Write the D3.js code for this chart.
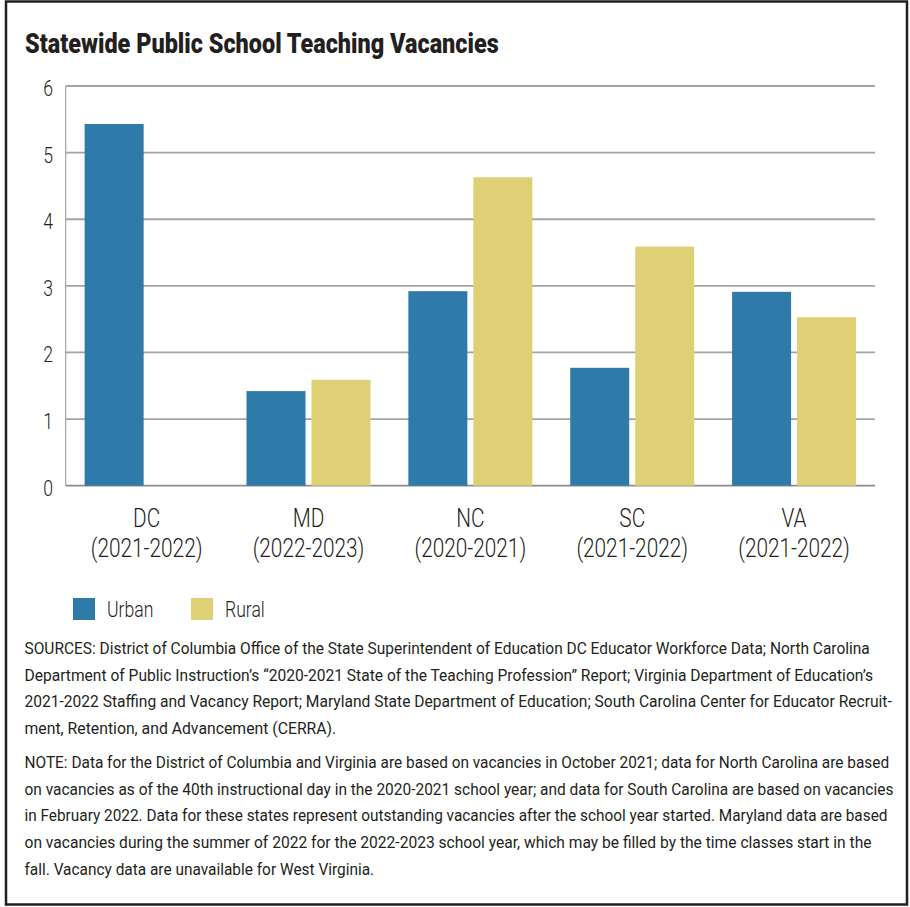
<!DOCTYPE html>
<html>
<head>
<meta charset="utf-8">
<script src="https://cdn.jsdelivr.net/npm/d3@7"></script>
<style>
  body { margin: 0; background: #fff; }
  text { font-family: Roboto, "Liberation Sans", sans-serif; fill: #231f20; }
</style>
</head>
<body>
<div id="graph"></div>
<script>
// chart data
let states = ['DC', 'MD', 'NC', 'SC', 'VA'];
let years = ['(2021-2022)', '(2022-2023)', '(2020-2021)', '(2021-2022)', '(2021-2022)'];
let urban = [5.43, 1.42, 2.92, 1.77, 2.91];
let rural = [null, 1.59, 4.63, 3.59, 2.53];
let seriesNames = ['Urban', 'Rural'];
let yTicks = [0, 1, 2, 3, 4, 5, 6];

let title = 'Statewide Public School Teaching Vacancies';
let sourceLines = [
	'SOURCES:  District of Columbia Office of the State Superintendent of Education DC Educator Workforce Data; North Carolina',
	'Department of Public Instruction\u2019s \u201c2020-2021 State of the Teaching Profession\u201d Report; Virginia Department of Education\u2019s',
	'2021-2022 Staffing and Vacancy Report; Maryland State Department of Education; South Carolina Center for Educator Recruit-',
	'ment, Retention, and Advancement (CERRA).'
];
let noteLines = [
	'NOTE: Data for the District of Columbia and Virginia are based on vacancies in October 2021; data for North Carolina are based',
	'on vacancies as of the 40th instructional day in the 2020-2021 school year; and data for South Carolina are based on vacancies',
	'in February 2022. Data for these states represent outstanding vacancies after the school year started. Maryland data are based',
	'on vacancies during the summer of 2022 for the 2022-2023 school year, which may be filled by the time classes start in the',
	'fall. Vacancy data are unavailable for West Virginia.'
];
// line widths
let sourceWidths = [846, 849, 868, 312];
let noteWidths = [865, 869, 864, 848, 350];

let colors = d3.scaleOrdinal().domain(seriesNames).range(['#2e7ba9', '#e0d075']);

let width = 910, height = 907;
let plot = { left: 65.7, right: 875, top: 86, bottom: 485.7 };
let narrow = 0.8; // horizontal squeeze standing in for the condensed face

let svg = d3.select('div#graph').append('svg')
	.attr('width', width)
	.attr('height', height);

// squeeze a text to a wanted width (or by a factor) and put it at x,y
function fit(node, x, y, w, k){
	let len = node.getComputedTextLength();
	let s = w ? w / len : k;
	d3.select(node).attr('transform', 'translate(' + x + ',' + y + ') scale(' + s + ',1)');
}

// frame
svg.append('rect')
	.attr('x', 6).attr('y', 1.5)
	.attr('width', 901).attr('height', 903)
	.attr('fill', 'none')
	.attr('stroke', '#231f20')
	.attr('stroke-width', 2.5);

let t = svg.append('text')
	.attr('font-size', 27)
	.attr('font-weight', 900)
	.text(title);
fit(t.node(), 25, 53, 474);

let x0 = d3.scaleBand()
	.domain(states)
	.range([plot.left, plot.right])
	.paddingInner(0.234)
	.paddingOuter(0.117);
let x1 = d3.scaleBand()
	.domain(seriesNames)
	.range([0, x0.bandwidth()])
	.paddingInner(0.092);
let y = d3.scaleLinear()
	.domain([0, 6])
	.range([plot.bottom, plot.top]);

// gridlines
let grid = svg.append('g');
grid.selectAll('line')
	.data(yTicks)
	.enter()
	.append('line')
	.attr('x1', plot.left)
	.attr('x2', plot.right)
	.attr('y1', function(d){ return y(d); })
	.attr('y2', function(d){ return y(d); })
	.attr('stroke', function(d){ return d === 0 ? '#8c8c8c' : '#a4a4a4'; })
	.attr('stroke-width', 1.8);
grid.append('line')
	.attr('x1', plot.left).attr('x2', plot.left)
	.attr('y1', y(6)).attr('y2', y(0))
	.attr('stroke', '#a4a4a4')
	.attr('stroke-width', 1.2);

svg.append('g').selectAll('text')
	.data(yTicks)
	.enter()
	.append('text')
	.attr('text-anchor', 'end')
	.attr('font-size', 22)
	.attr('font-weight', 300)
	.attr('fill', '#333')
	.text(function(d){ return d; })
	.each(function(d){ fit(this, 53, y(d) + 10, null, narrow); });

// bars
let rows = states.map(function(s, i){
	return { state: s, values: [ { key: 'Urban', v: urban[i] }, { key: 'Rural', v: rural[i] } ] };
});
let groups = svg.append('g').selectAll('g')
	.data(rows)
	.enter()
	.append('g')
	.attr('transform', function(d){ return 'translate(' + x0(d.state) + ',0)'; });
groups.selectAll('rect')
	.data(function(d){ return d.values.filter(function(e){ return e.v != null; }); })
	.enter()
	.append('rect')
	.attr('x', function(d){ return x1(d.key); })
	.attr('y', function(d){ return y(d.v); })
	.attr('width', x1.bandwidth())
	.attr('height', function(d){ return y(0) - y(d.v); })
	.attr('fill', function(d){ return colors(d.key); });

// category labels
let cats = svg.append('g');
cats.selectAll('text.state')
	.data(states)
	.enter()
	.append('text')
	.attr('class', 'state')
	.attr('text-anchor', 'middle')
	.attr('font-size', 26)
	.attr('font-weight', 300)
	.text(function(d){ return d; })
	.each(function(d){ fit(this, x0(d) + x0.bandwidth() / 2, 527, null, narrow); });
cats.selectAll('text.year')
	.data(years)
	.enter()
	.append('text')
	.attr('class', 'year')
	.attr('text-anchor', 'middle')
	.attr('font-size', 26)
	.attr('font-weight', 300)
	.text(function(d){ return d; })
	.each(function(d, i){ fit(this, x0(states[i]) + x0.bandwidth() / 2, 557, null, narrow); });

// legend
let legend = svg.append('g').selectAll('g')
	.data(seriesNames)
	.enter()
	.append('g')
	.attr('transform', function(d, i){ return 'translate(' + (73 + i * 118) + ',598)'; });
legend.append('rect')
	.attr('width', 22)
	.attr('height', 22)
	.attr('fill', function(d){ return colors(d); });
legend.append('text')
	.attr('font-size', 22)
	.attr('font-weight', 300)
	.text(function(d){ return d; })
	.each(function(){ fit(this, 34, 19, null, narrow); });

// footnotes
svg.append('g').selectAll('text')
	.data(sourceLines)
	.enter()
	.append('text')
	.attr('font-size', 17)
	.text(function(d){ return d; })
	.each(function(d, i){ fit(this, 24.5, 654 + i * 26.5, sourceWidths[i]); });
svg.append('g').selectAll('text')
	.data(noteLines)
	.enter()
	.append('text')
	.attr('font-size', 17)
	.text(function(d){ return d; })
	.each(function(d, i){ fit(this, 24.5, 768 + i * 26.7, noteWidths[i]); });
</script>
</body>
</html>
